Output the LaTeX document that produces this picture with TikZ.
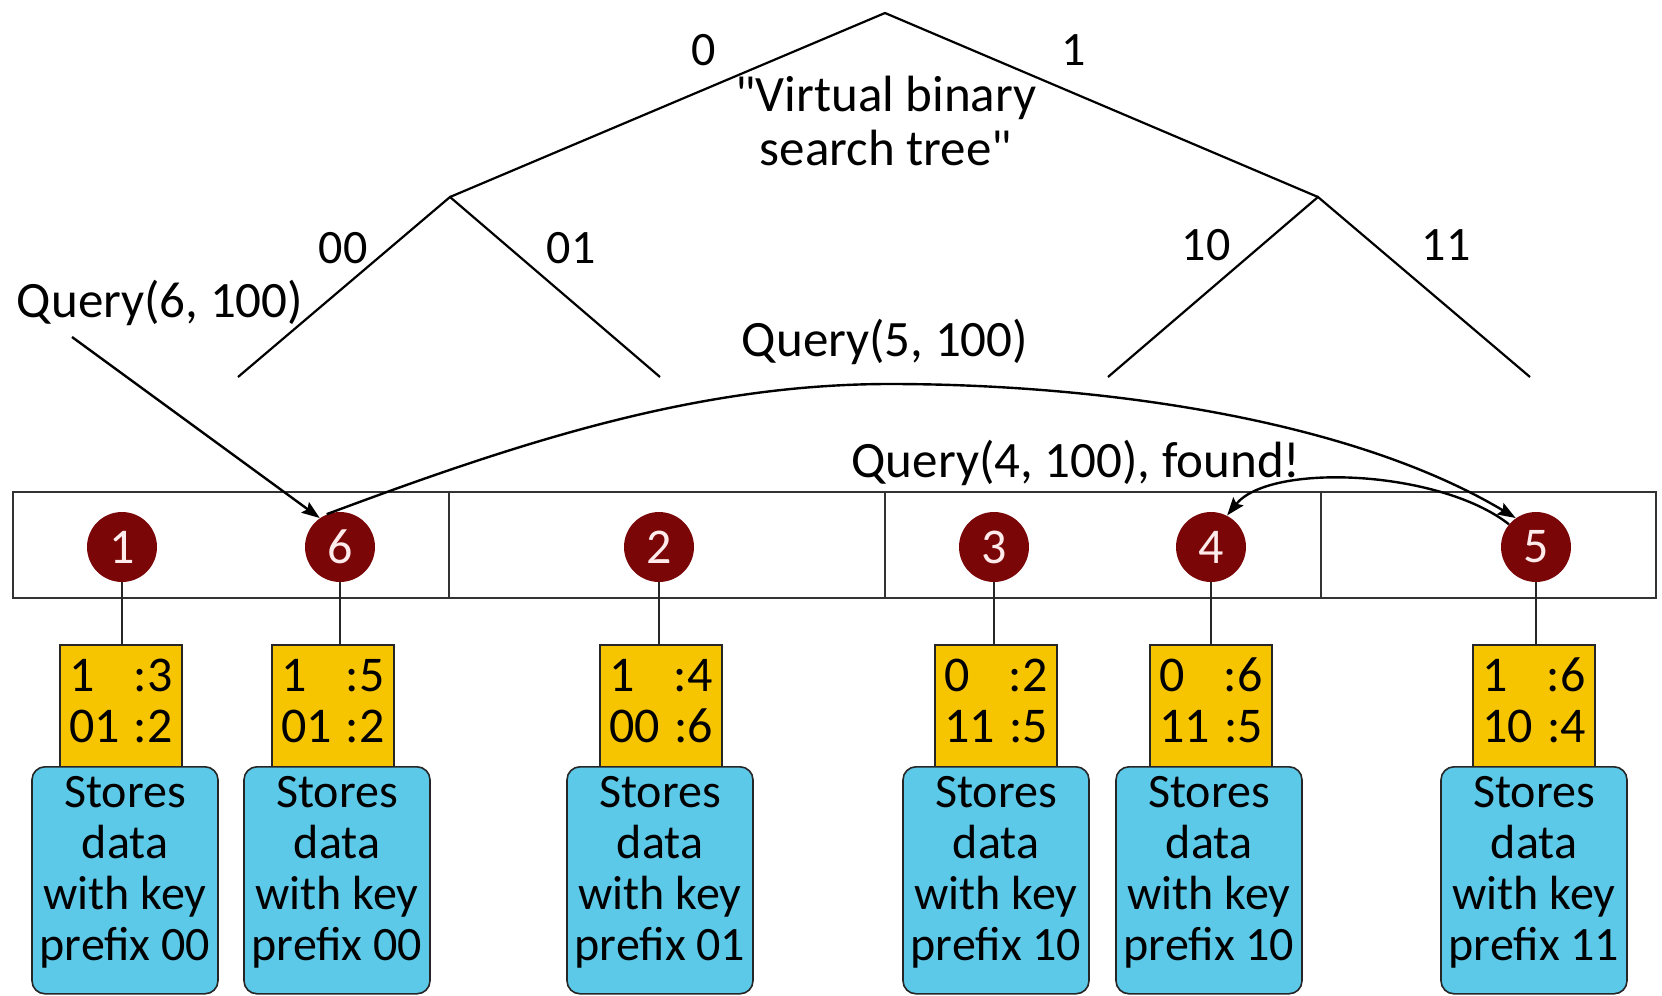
\documentclass[tikz,border=0pt]{standalone}
\usepackage{fontspec}
\setmainfont{Carlito}[Ligatures=TeXOff]
\usetikzlibrary{arrows.meta}

\definecolor{peerred}{RGB}{122,6,8}
\definecolor{tablefill}{RGB}{247,197,0}
\definecolor{storefill}{RGB}{92,201,232}

% two-row routing table: prefix : peer
\newcommand\routingtab[4]{%
  \begin{tabular}{@{}l@{\hspace{7pt}}l@{}}#1&:#2\\#3&:#4\end{tabular}}

\begin{document}
\begin{tikzpicture}[x=0.5pt,y=-0.5pt,
  every node/.style={font=\fontsize{24}{25.5}\selectfont},
  msg/.style={font=\fontsize{25.5}{27}\selectfont},
  branch/.style={line width=1.1pt, line join=miter},
  zone/.style={draw=black!80, line width=1pt},
  peer/.style={circle, fill=peerred, minimum size=35pt, inner sep=0pt,
    text=white!92!red, font=\fontsize{25}{26}\selectfont},
  routing/.style={draw=black!85, line width=0.8pt, fill=tablefill,
    minimum width=61pt, minimum height=61.5pt, inner sep=0pt, anchor=north,
    font=\fontsize{25}{25.5}\selectfont},
  store/.style={draw=black!85, line width=0.8pt, fill=storefill,
    rounded corners=6.5pt, minimum width=93pt, minimum height=113.5pt,
    inner sep=0pt, anchor=north},
  storetext/.style={align=center, inner sep=0pt},
  link/.style={line width=0.8pt, draw=black!85},
  query/.style={line width=1.2pt, -{Stealth[length=9pt,width=6.5pt,inset=1.5pt]}},
]
\useasboundingbox (0,0) rectangle (1662,996);

% ---- virtual binary search tree ----
\coordinate (root) at (885,13);
\coordinate (b0)  at (450,197);
\coordinate (b1)  at (1318,197);
\coordinate (b00) at (238,377);
\coordinate (b01) at (660,377);
\coordinate (b10) at (1108,377);
\coordinate (b11) at (1530,377);
\draw[branch] (b0) -- (root) -- (b1);
\draw[branch] (b00) -- (b0) -- (b01);
\draw[branch] (b10) -- (b1) -- (b11);

\node (l0)  at (704,50)  {0};
\node (l1)  at (1074,50) {1};
\node (l00) at (343,248) {00};
\node (l01) at (571,248) {01};
\node (l10) at (1206,245) {10};
\node (l11) at (1446,245) {11};
\node[msg, align=center] (title) at (886,121) {"Virtual binary\\search tree"};

% ---- key-space zones ----
\draw[zone] (13,492) rectangle (1656,598);
\draw[zone] (449,492) -- (449,598);
\draw[zone] (885,492) -- (885,598);
\draw[zone] (1321,492) -- (1321,598);

% ---- peers ----
\foreach \n/\x in {1/122,6/340,2/659,3/994,4/1211,5/1536}
  \node[peer] (n\n) at (\x,547) {\n};

% ---- routing tables ----
\node[routing] (t1) at (121,644)  {\routingtab{1}{3}{01}{2}};
\node[routing] (t6) at (333,644)  {\routingtab{1}{5}{01}{2}};
\node[routing] (t2) at (661,644)  {\routingtab{1}{4}{00}{6}};
\node[routing] (t3) at (996,644)  {\routingtab{0}{2}{11}{5}};
\node[routing] (t4) at (1211,644) {\routingtab{0}{6}{11}{5}};
\node[routing] (t5) at (1534,644) {\routingtab{1}{6}{10}{4}};

\foreach \n in {1,6,2,3,4,5}
  \draw[link] (n\n.south) -- (n\n.south |- t\n.north);

% ---- data stores ----
\foreach \n/\x/\p in {1/125/00,6/337/00,2/660/01,3/996/10,4/1209/10,5/1534/11}{
  \node[store] (s\n) at (\x,766) {};
  \node[storetext] (d\n) at ([yshift=4pt]s\n.center) {Stores\\data\\with key\\prefix \p};
}

% ---- lookup path ----
\coordinate (q6) at (72,337);
\coordinate (q5top) at (890,384);
\draw[query] (q6) -- (n6.125);
\draw[query] (n6.112) .. controls (525,440) and (700,384) .. (q5top)
  .. controls (1100,384) and (1350,419) .. (n5.125);
\draw[query] (n5.140) .. controls (1440,470) and (1270,462) .. (n4.63);

\node[msg] (m6) at (160,303)  {Query(6, 100)};
\node[msg] (m5) at (885,342)  {Query(5, 100)};
\node[msg] (m4) at (1076,463) {Query(4, 100), found!};
\end{tikzpicture}
\end{document}
